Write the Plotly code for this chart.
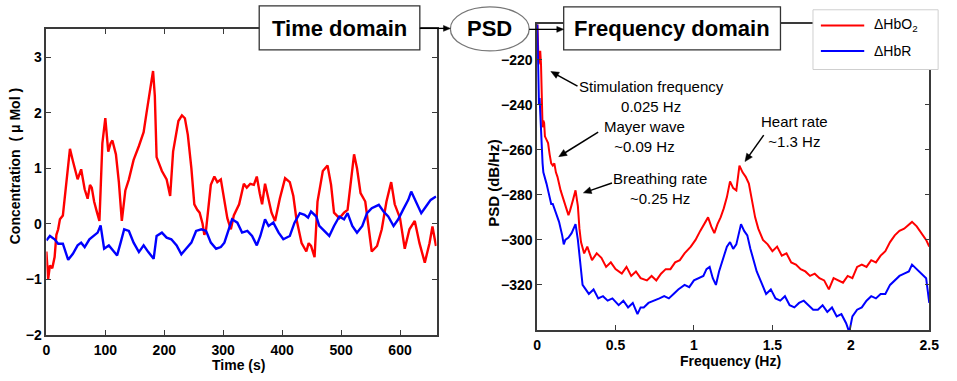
import math
import plotly.graph_objects as go

# ---------------- data ----------------
time_red = [0, 3, 6, 10, 14, 17, 20, 23, 28, 34, 40, 45, 50, 53, 59, 65, 70, 74, 77, 81,
            86, 90, 92, 95, 100, 105, 109, 112, 118, 123, 128, 131, 134, 140, 148, 157, 165, 170,
            175, 178, 181, 184, 187, 196, 204, 210, 215, 224, 230, 235, 240, 246, 251, 256, 260,
            265, 268, 271, 274, 279, 285, 290, 296, 302, 307, 313, 318, 327, 335, 340, 346, 352,
            357, 362, 366, 371, 377, 382, 388, 396, 405, 413, 419, 424, 433, 441, 445, 449, 455,
            460, 469, 477, 483, 488, 497, 505, 511, 516, 522, 527, 533, 541, 547, 552, 561, 569,
            577, 585, 591, 600, 608, 616, 625, 633, 642, 650, 655, 661]
hbo2_time = [-0.5, -1.0, -0.75, -0.8, -0.6, -0.2, -0.1, 0.08, 0.15, 0.72, 1.35, 1.13, 0.9, 0.8,
             0.98, 0.62, 0.45, 0.7, 0.65, 0.4, 0.2, 0.05, 0.6, 1.45, 1.9, 1.3, 1.45, 1.5, 1.25,
             0.75, 0.05, 0.3, 0.6, 0.8, 1.15, 1.4, 1.65, 2.0, 2.4, 2.55, 2.75, 2.3, 1.2, 0.95,
             0.8, 0.5, 1.3, 1.85, 1.95, 1.9, 1.6, 1.0, 0.35, 0.25, 0.2, 0.0, -0.2, -0.1, 0.2,
             0.7, 0.85, 0.75, 0.8, 0.45, 0.1, -0.1, 0.15, 0.35, 0.72, 0.65, 0.72, 0.7, 0.85,
             0.55, 0.35, 0.72, 0.45, 0.2, 0.05, 0.45, 0.82, 0.75, 0.5, 0.1, -0.35, -0.5, -0.35,
             -0.4, -0.6, 0.4, 0.95, 1.05, 0.7, 0.2, 0.1, 0.2, 0.25, 0.75, 1.25, 1.0, 0.55, 0.4,
             -0.1, -0.5, -0.4, -0.1, 0.4, 0.75, 0.35, 0.1, -0.45, -0.1, 0.05, -0.35, -0.7, -0.35,
             -0.05, -0.4]

time_blue = [0, 6, 14, 20, 28, 37, 45, 53, 59, 65, 73, 81, 87, 92, 98, 106, 115, 120, 126, 132,
             140, 148, 157, 165, 173, 182, 187, 196, 204, 212, 221, 229, 237, 246, 254, 263, 271,
             279, 288, 296, 302, 310, 315, 324, 332, 341, 349, 357, 363, 371, 377, 385, 394, 402,
             413, 421, 430, 438, 444, 449, 458, 463, 472, 480, 488, 497, 505, 511, 519, 527, 536,
             544, 552, 564, 572, 580, 589, 597, 605, 614, 619, 628, 636, 644, 652, 661]
hbr_time = [-0.3, -0.22, -0.28, -0.36, -0.36, -0.65, -0.54, -0.39, -0.34, -0.42, -0.28, -0.22,
            -0.16, -0.03, -0.45, -0.39, -0.51, -0.57, -0.34, -0.1, -0.13, -0.34, -0.51, -0.39,
            -0.51, -0.63, -0.22, -0.16, -0.25, -0.28, -0.39, -0.55, -0.45, -0.34, -0.13, -0.1,
            -0.13, -0.34, -0.45, -0.42, -0.34, -0.1, 0.08, 0.02, -0.16, -0.13, -0.22, -0.39,
            -0.22, 0.08, -0.04, 0.02, -0.16, -0.28, -0.22, 0.02, 0.19, 0.16, 0.11, 0.22, 0.13,
            -0.04, -0.13, -0.22, -0.04, 0.13, 0.08, 0.19, -0.04, -0.16, -0.04, 0.19, 0.28, 0.34,
            0.22, 0.13, -0.04, 0.08, 0.25, 0.43, 0.58, 0.37, 0.19, 0.31, 0.43, 0.49]

freq_red = [0.000, 0.005, 0.010, 0.015, 0.020, 0.025, 0.028, 0.031, 0.035, 0.040, 0.045, 0.05,
            0.06, 0.07, 0.08, 0.09, 0.10, 0.11, 0.12, 0.13, 0.15, 0.17, 0.19, 0.20, 0.21, 0.22,
            0.23, 0.245, 0.26, 0.27, 0.28, 0.30, 0.32, 0.35, 0.38, 0.41, 0.44, 0.47, 0.50, 0.54,
            0.57, 0.60, 0.63, 0.66, 0.70, 0.73, 0.76, 0.79, 0.82, 0.85, 0.88, 0.91, 0.94, 0.98,
            1.01, 1.04, 1.07, 1.09, 1.11, 1.13, 1.15, 1.17, 1.19, 1.21, 1.23, 1.25, 1.27, 1.29,
            1.31, 1.33, 1.35, 1.37, 1.39, 1.41, 1.44, 1.47, 1.50, 1.53, 1.56, 1.59, 1.62, 1.65,
            1.68, 1.71, 1.74, 1.77, 1.80, 1.83, 1.86, 1.89, 1.92, 1.95, 1.98, 2.01, 2.04, 2.07,
            2.10, 2.13, 2.16, 2.19, 2.22, 2.25, 2.28, 2.31, 2.34, 2.37, 2.39, 2.42, 2.45, 2.48,
            2.50]
hbo2_psd = [-200, -212, -222, -219, -216, -222, -232, -242, -250, -247, -248, -254, -256, -257,
            -262, -266, -267, -266, -270, -272, -278, -282, -286, -289, -287, -285, -282, -278,
            -285, -295, -301, -306, -303, -309, -306, -308, -312, -310, -313, -315, -312, -316,
            -314, -317, -318, -316, -318, -315, -313, -313, -310, -309, -306, -303, -300, -296,
            -292, -290, -294, -297, -293, -290, -286, -281, -274, -277, -278, -267, -270, -272,
            -275, -283, -290, -295, -300, -302, -305, -303, -307, -306, -310, -311, -313, -314,
            -316, -315, -317, -318, -322, -317, -318, -319, -316, -317, -312, -311, -312, -309,
            -310, -307, -305, -301, -298, -296, -295, -293, -292, -294, -297, -300, -303]

freq_blue = [0.000, 0.004, 0.008, 0.012, 0.016, 0.020, 0.025, 0.030, 0.035, 0.04, 0.05, 0.06,
             0.07, 0.08, 0.09, 0.10, 0.12, 0.14, 0.16, 0.17, 0.18, 0.20, 0.22, 0.245, 0.26, 0.27,
             0.29, 0.31, 0.33, 0.36, 0.39, 0.42, 0.45, 0.48, 0.52, 0.55, 0.58, 0.61, 0.64, 0.66,
             0.68, 0.71, 0.75, 0.78, 0.81, 0.84, 0.87, 0.90, 0.94, 0.97, 1.00, 1.03, 1.06, 1.08,
             1.10, 1.12, 1.14, 1.16, 1.19, 1.21, 1.23, 1.25, 1.27, 1.29, 1.30, 1.32, 1.34, 1.36,
             1.38, 1.40, 1.43, 1.46, 1.49, 1.52, 1.55, 1.58, 1.61, 1.64, 1.67, 1.70, 1.73, 1.76,
             1.79, 1.82, 1.85, 1.88, 1.91, 1.94, 1.97, 1.99, 2.01, 2.04, 2.07, 2.10, 2.13, 2.16,
             2.19, 2.22, 2.25, 2.28, 2.31, 2.34, 2.37, 2.39, 2.42, 2.45, 2.48, 2.50]
hbr_psd = [-200, -222, -238, -240, -237, -245, -255, -262, -266, -270, -272, -275, -278, -281,
           -284, -284, -288, -292, -298, -302, -300, -299, -297, -293, -300, -307, -320, -322,
           -324, -322, -326, -325, -327, -326, -329, -327, -330, -328, -333, -330, -330, -328,
           -327, -326, -325, -326, -324, -322, -320, -321, -318, -317, -316, -313, -312, -317,
           -320, -314, -308, -303, -301, -304, -302, -296, -293, -296, -298, -304, -309, -314,
           -319, -324, -322, -326, -327, -325, -329, -330, -328, -327, -329, -331, -331, -329,
           -332, -330, -334, -333, -337, -341, -334, -331, -330, -327, -325, -326, -324, -324,
           -320, -318, -316, -315, -314, -311, -313, -315, -317, -328]

time_ticks = [0, 100, 200, 300, 400, 500, 600]
conc_ticks = [-2, -1, 0, 1, 2, 3]
freq_ticks = [0, 0.5, 1, 1.5, 2, 2.5]
freq_tick_text = ["0", "0.5", "1", "1.5", "2", "2.5"]
psd_ticks = [-320, -300, -280, -260, -240, -220]

series_names = ["\u0394HbO<sub>2</sub>", "\u0394HbR"]
series_colors = ["#ff0000", "#0000ff"]

# ---------------- helpers (pixel -> paper) ----------------
W, H = 957, 381
def px(x):
    return x / W
def py(y):
    return 1 - y / H

FONT = "Liberation Sans, Arial, Helvetica, sans-serif"
AX = "#3a3a3a"

fig = go.Figure()
fig.add_trace(go.Scatter(x=time_red, y=hbo2_time, mode="lines", name=series_names[0],
                         line=dict(color=series_colors[0], width=2.4), showlegend=False,
                         xaxis="x", yaxis="y"))
fig.add_trace(go.Scatter(x=time_blue, y=hbr_time, mode="lines", name=series_names[1],
                         line=dict(color=series_colors[1], width=2.4), showlegend=False,
                         xaxis="x", yaxis="y"))
fig.add_trace(go.Scatter(x=freq_red, y=hbo2_psd, mode="lines", name=series_names[0],
                         line=dict(color=series_colors[0], width=2), showlegend=False,
                         xaxis="x2", yaxis="y2"))
fig.add_trace(go.Scatter(x=freq_blue, y=hbr_psd, mode="lines", name=series_names[1],
                         line=dict(color=series_colors[1], width=2), showlegend=False,
                         xaxis="x2", yaxis="y2"))

tickfont = dict(family=FONT, size=14, color="black", weight="bold")
common = dict(showline=True, linecolor=AX, linewidth=1.5, mirror="ticks", ticks="inside",
              ticklen=5, tickcolor=AX, tickwidth=1.2, showgrid=False, zeroline=False,
              tickfont=tickfont)

fig.update_layout(
    width=W, height=H, autosize=False,
    margin=dict(l=0, r=0, t=0, b=0),
    paper_bgcolor="white", plot_bgcolor="white",
    showlegend=False,
    xaxis=dict(domain=[px(43), px(439)], range=[0, 662], tickvals=time_ticks,
               anchor="y", ticklabelstandoff=2, **common),
    yaxis=dict(domain=[py(342), py(30)], range=[-2, 3.5], tickvals=conc_ticks,
               anchor="x", **common),
    xaxis2=dict(domain=[px(541), px(939)], range=[0, 2.5], tickvals=freq_ticks,
                ticktext=freq_tick_text, anchor="y2", ticklabelstandoff=2, **common),
    yaxis2=dict(domain=[py(337), py(25)], range=[-340, -204.3], tickvals=psd_ticks,
                anchor="x2", **common),
)

shapes = []
annos = []

def label(text, x, y, font, angle=0, xanchor="center"):
    annos.append(dict(text=text, x=px(x), y=py(y), xref="paper", yref="paper",
                      xanchor=xanchor, yanchor="middle", showarrow=False, textangle=angle,
                      font=font, align="center"))

bold14 = dict(family=FONT, size=14, weight="bold", color="black")
# axis titles
label("Time (s)", 238, 373, bold14)
label("Frequency (Hz)", 737, 369, bold14)
label("Concentration  ( \u03bc Mol )", 12, 170, bold14, angle=-90)
label("PSD (dB/Hz)", 496, 187, dict(family=FONT, size=15, weight="bold", color="black"),
      angle=-90)

# flow diagram boxes
shapes.append(dict(type="rect", xref="paper", yref="paper", x0=px(259), x1=px(422),
                   y0=py(51), y1=py(6), line=dict(color="#333", width=1.3), fillcolor="white",
                   layer="above"))
shapes.append(dict(type="circle", xref="paper", yref="paper", x0=px(453), x1=px(533),
                   y0=py(52), y1=py(7), line=dict(color="#777", width=1.3), fillcolor="white",
                   layer="above"))
shapes.append(dict(type="rect", xref="paper", yref="paper", x0=px(568), x1=px(788),
                   y0=py(51), y1=py(7), line=dict(color="#333", width=1.3), fillcolor="white",
                   layer="above"))
# legend box
shapes.append(dict(type="rect", xref="paper", yref="paper", x0=px(821), x1=px(948),
                   y0=py(71), y1=py(10), line=dict(color="#cfcfcf", width=1), fillcolor="white",
                   layer="above"))
for i, (ly, c) in enumerate([(26, series_colors[0]), (52, series_colors[1])]):
    shapes.append(dict(type="line", xref="paper", yref="paper", x0=px(829), x1=px(873),
                       y0=py(ly), y1=py(ly), line=dict(color=c, width=2), layer="above"))
    label(series_names[i], 881, ly, dict(family=FONT, size=14, color="black"), xanchor="left")

box_font = dict(family=FONT, size=22, weight="bold", color="black")
label("Time domain", 340.5, 29, box_font)
label("PSD", 493, 29.5, box_font)
label("Frequency domain", 678, 29, box_font)

# arrows drawn as a shaft line plus a filled triangular head (pixel geometry -> paper)
def arrow(hx, hy, tx, ty, width=1.3, head_len=8.0, head_half=3.5):
    dx, dy = hx - tx, hy - ty
    L = math.hypot(dx, dy)
    ux, uy = dx / L, dy / L
    bx, by = hx - ux * head_len, hy - uy * head_len
    nx, ny = -uy, ux
    shapes.append(dict(type="line", xref="paper", yref="paper",
                       x0=px(tx), y0=py(ty), x1=px(bx + ux), y1=py(by + uy),
                       line=dict(color="black", width=width), layer="above"))
    p1 = (bx + nx * head_half, by + ny * head_half)
    p2 = (bx - nx * head_half, by - ny * head_half)
    path = "M {:.5f},{:.5f} L {:.5f},{:.5f} L {:.5f},{:.5f} Z".format(
        px(hx), py(hy), px(p1[0]), py(p1[1]), px(p2[0]), py(p2[1]))
    shapes.append(dict(type="path", xref="paper", yref="paper", path=path,
                       fillcolor="black", line=dict(color="black", width=0.5), layer="above"))

arrow(453, 29, 422, 29, head_len=7, head_half=3)
arrow(568, 30, 533, 30, head_len=7, head_half=3)

# peak annotations (text + arrows)
ann_font = dict(family=FONT, size=15, color="black")
label("Stimulation frequency<br>0.025 Hz", 657, 98.5, ann_font)
label("Mayer wave<br>~0.09 Hz", 650, 139, ann_font)
label("Breathing rate<br>~0.25 Hz", 666, 192.5, ann_font)
label("Heart rate<br>~1.3 Hz", 802, 134, ann_font)
arrow(555, 73, 582, 88, width=1.5)
arrow(563, 160, 603, 135, width=1.5)
arrow(588, 197, 617, 187, width=1.5)
arrow(752, 165, 771, 138, width=1.5)

fig.update_layout(shapes=shapes, annotations=annos)
fig.write_html(
    "out.html", config={"displayModeBar": False},
    post_script=("document.body.style.margin='0';"
                 "document.body.style.overflow='hidden';"
                 "document.documentElement.style.overflow='hidden';"))
